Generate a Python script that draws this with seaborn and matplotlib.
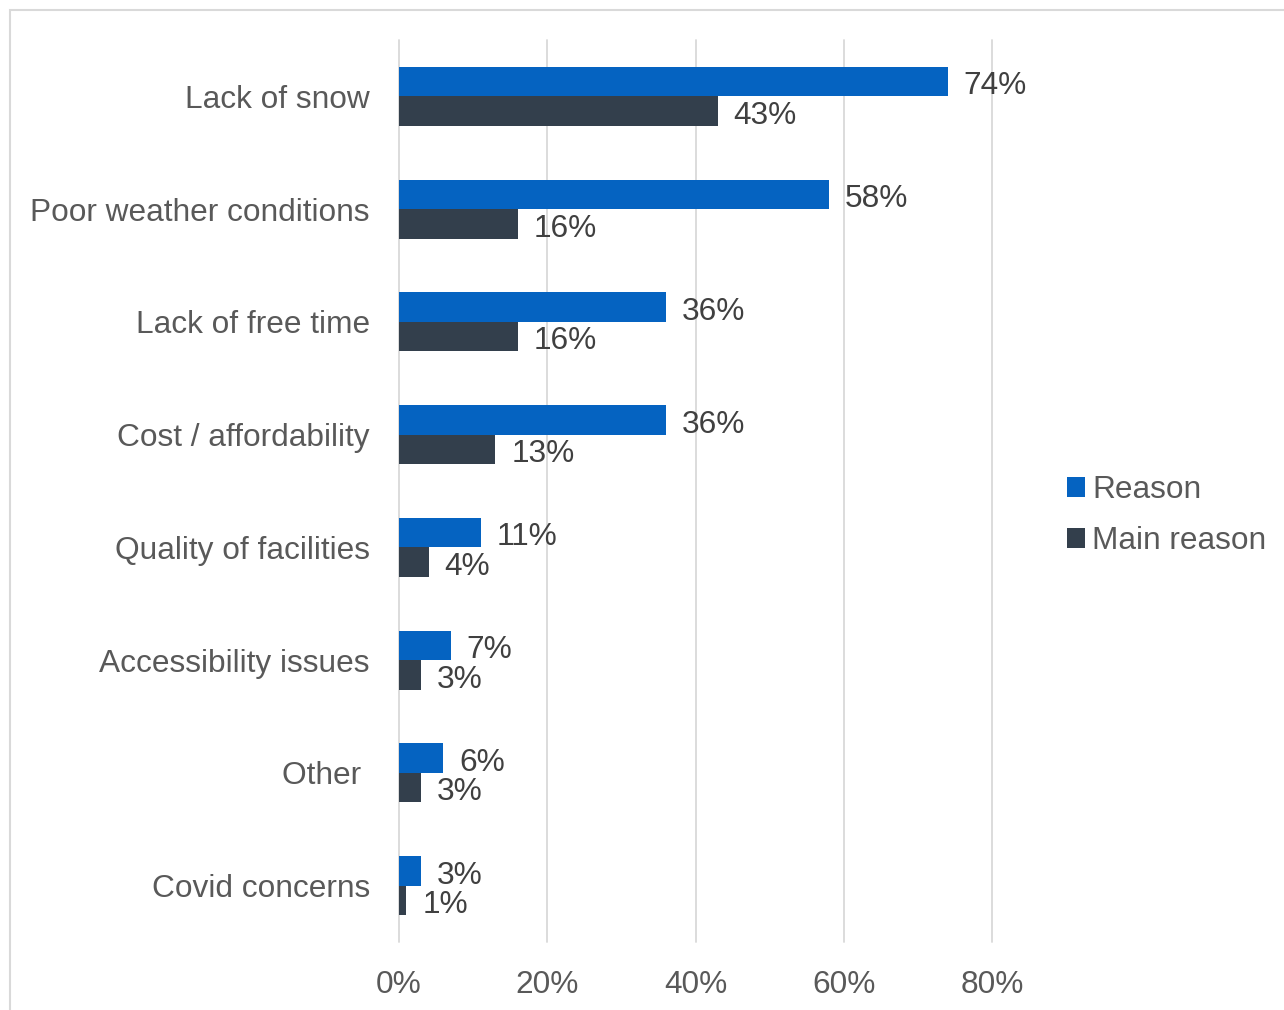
import matplotlib
matplotlib.use("Agg")
import matplotlib.pyplot as plt
import seaborn as sns
import pandas as pd
from matplotlib.patches import Rectangle
from matplotlib.ticker import FuncFormatter

categories = ["Lack of snow", "Poor weather conditions", "Lack of free time",
              "Cost / affordability", "Quality of facilities", "Accessibility issues",
              "Other ", "Covid concerns"]
reason = [74, 58, 36, 36, 11, 7, 6, 3]
main_reason = [43, 16, 16, 13, 4, 3, 3, 1]
series = ["Reason", "Main reason"]
colors = ["#0563C1", "#333F4C"]
xticks = [0, 20, 40, 60, 80]

df = pd.DataFrame({
    "category": categories * 2,
    "value": reason + main_reason,
    "series": [series[0]] * len(categories) + [series[1]] * len(categories),
})

sns.set_style("white")
plt.rcParams["font.family"] = ["Liberation Sans", "DejaVu Sans"]
FS = 22.8

fig = plt.figure(figsize=(12.84, 10.10), dpi=100)
ax = fig.add_axes([399/1284, 1 - 942/1010, (992-399)/1284, (942-40)/1010])

sns.barplot(data=df, y="category", x="value", hue="series", order=categories,
            hue_order=series, palette=colors, orient="h", width=0.525,
            saturation=1, ax=ax, legend=True, linewidth=0)

ax.set_xlim(0, 80)
ax.set_xticks(xticks)
ax.xaxis.set_major_formatter(FuncFormatter(lambda v, p: f"{int(v)}%"))
ax.set_xlabel("")
ax.set_ylabel("")
ax.grid(axis="x", color="#D9D9D9", linewidth=1.3)
ax.grid(axis="y", visible=False)
for gl in ax.get_xgridlines():
    gl.set_clip_on(False)
for s in ax.spines.values():
    s.set_visible(False)
ax.tick_params(axis="x", length=0, pad=20.5, labelsize=FS, labelcolor="#595959")
ax.tick_params(axis="y", length=0, pad=21, labelsize=FS, labelcolor="#595959")

for cont in ax.containers:
    anns = ax.bar_label(cont, labels=[f"{int(v)}%" for v in cont.datavalues],
                        padding=11.5, fontsize=FS, color="#404040", clip_on=False)
    for a in anns:
        a.xyann = (11.5, -3.4)

leg = ax.get_legend()
handles = leg.legend_handles
leg.remove()
fig.legend(handles, series, loc="center left", bbox_to_anchor=(1067/1284, 1 - 515.5/1010),
           frameon=False, fontsize=FS, labelcolor="#595959", handlelength=0.58,
           handleheight=0.58, handletextpad=0.22, labelspacing=0.66, borderpad=0,
           borderaxespad=0)

fig.patches.append(Rectangle((10/1284, -0.05), 1.2, 1 - 10/1010 + 0.05,
                             transform=fig.transFigure, fill=False,
                             edgecolor="#D9D9D9", linewidth=1.5))

fig.savefig("out.png", dpi=100)
